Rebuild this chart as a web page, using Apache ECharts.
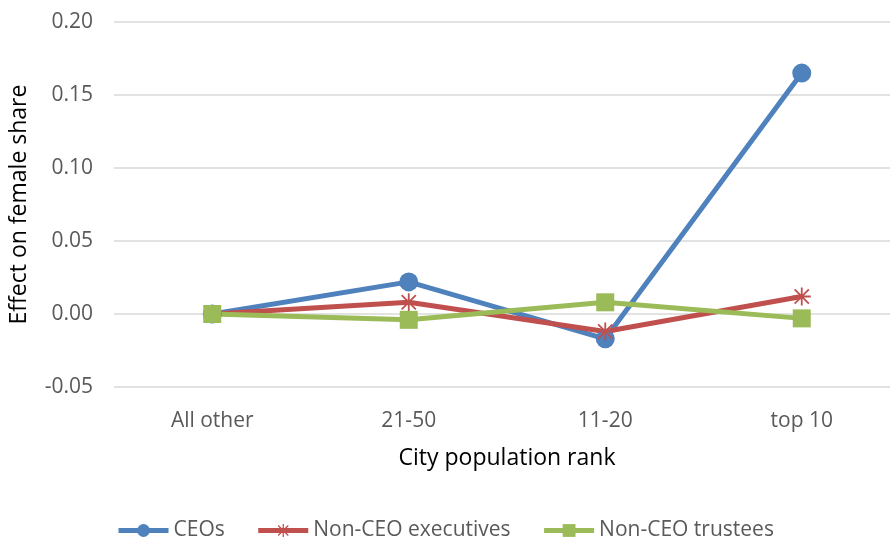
<!DOCTYPE html>
<html lang="en">
<head>
    <meta charset="UTF-8">
    <title>Effect on female share</title>
    <style>
        html, body { margin: 0; padding: 0; background: #fff; overflow: hidden; }
        /* the plot runs a little past the right edge, so the canvas is wider than the window */
        #chart { width: 900px; height: 541px; }
    </style>
</head>
<body>
    <div id="chart"></div>
    <script src="https://cdn.jsdelivr.net/npm/echarts@6/dist/echarts.min.js"></script>
    <script type="text/javascript">
        // categories and series values
        var categories = ['All other', '21-50', '11-20', 'top 10']
        var ceos = [0, 0.022, -0.017, 0.165]
        var nonCeoExec = [0, 0.008, -0.012, 0.012]
        var nonCeoTrustees = [0, -0.004, 0.008, -0.003]

        // asterisk marker, built from four thin bars
        var star = 'path://M9,0L11,0L11,20L9,20Z M0,9L20,9L20,11L0,11Z ' +
            'M1.4,2.8L2.8,1.4L18.6,17.2L17.2,18.6Z M17.2,1.4L18.6,2.8L2.8,18.6L1.4,17.2Z'

        var font = 'Open Sans'
        var chart = echarts.init(document.getElementById('chart'))

        function line(name, data, color, symbol, size) {
            return {
                name: name,
                type: 'line',
                data: data,
                symbol: symbol,
                symbolSize: size,
                showAllSymbol: true,
                lineStyle: { color: color, width: 5 },
                itemStyle: { color: color },
                emphasis: { disabled: true }
            }
        }

        chart.setOption({
            animation: false,
            grid: { left: 114, top: 22, right: 0, bottom: 154, containLabel: false },
            legend: {
                top: 520,
                left: 116,
                padding: 0,
                itemWidth: 50,
                itemHeight: 16,
                itemGap: 31,
                lineStyle: { width: 5 },
                textStyle: { fontFamily: font, fontSize: 21, color: '#595959' },
                data: ['CEOs', 'Non-CEO executives', 'Non-CEO trustees']
            },
            xAxis: {
                type: 'category',
                data: categories,
                boundaryGap: true,
                axisLine: { show: false },
                axisTick: { show: false },
                axisLabel: { margin: 24, fontFamily: font, fontSize: 21, color: '#595959' },
                name: 'City population rank',
                nameLocation: 'middle',
                nameGap: 60,
                nameTextStyle: { fontFamily: font, fontSize: 23, color: '#000' }
            },
            yAxis: {
                type: 'value',
                min: -0.05,
                max: 0.2,
                interval: 0.05,
                axisLine: { show: false },
                axisTick: { show: false },
                splitLine: { lineStyle: { color: '#d9d9d9', width: 1.5 } },
                axisLabel: {
                    margin: 21,
                    fontFamily: font, fontSize: 21, color: '#595959',
                    formatter: function (v) { return v.toFixed(2) }
                },
                name: 'Effect on female share',
                nameLocation: 'middle',
                nameGap: 83,
                nameTextStyle: { fontFamily: font, fontSize: 23, color: '#000' }
            },
            series: [
                line('CEOs', ceos, '#4F81BD', 'circle', 19),
                line('Non-CEO executives', nonCeoExec, '#C0504D', star, 18),
                line('Non-CEO trustees', nonCeoTrustees, '#9BBB59', 'rect', 18)
            ]
        })
    </script>
</body>
</html>
